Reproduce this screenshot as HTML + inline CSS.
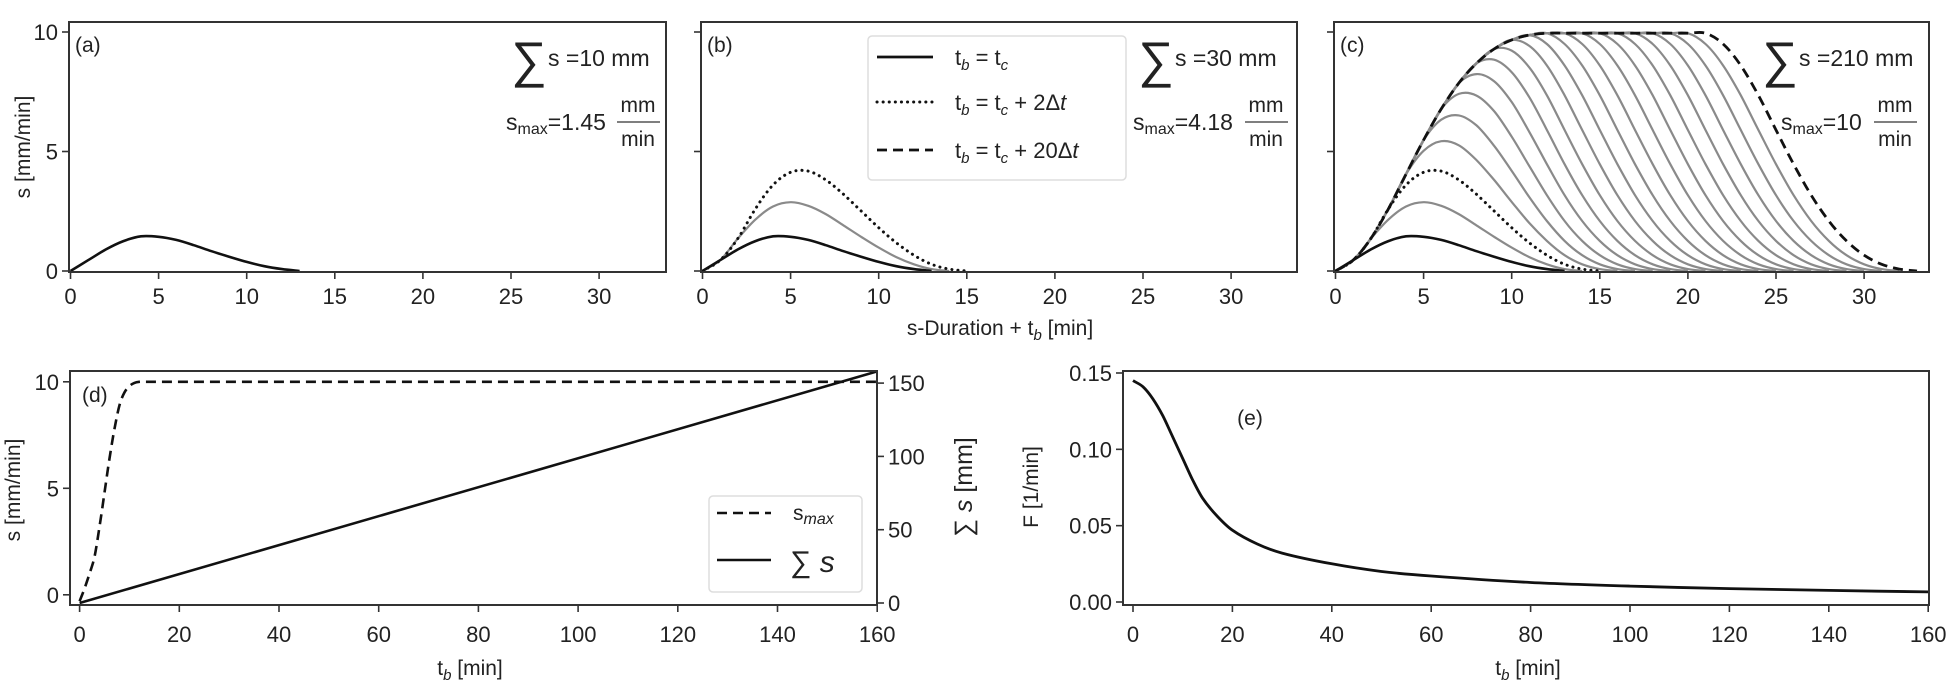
<!DOCTYPE html>
<html><head><meta charset="utf-8">
<style>
html,body{margin:0;padding:0;background:#fff;}
svg{display:block;font-family:"Liberation Sans",sans-serif;}
text{fill:#222;}
</style></head>
<body>
<svg id="fig" width="1953" height="689" viewBox="0 0 1953 689" xmlns="http://www.w3.org/2000/svg">
<rect x="0" y="0" width="1953" height="689" fill="#fff"/>
<g id="g"></g>
</svg>
<script>
// ---- data ----
// base response (t_b = t_c), value at integer minutes 0..13 [mm/min]
const baseTimes = [0,1,2,3,4,5,6,7,8,9,10,11,12,13];
const baseValues = [0,0.45,0.9,1.25,1.45,1.43,1.3,1.08,0.83,0.6,0.38,0.2,0.08,0];
// number of delta-t shifts superposed in each panel
const panelAShifts = [0];
const panelBShifts = [0,1,2];
const panelCShifts = [0,1,2,3,4,5,6,7,8,9,10,11,12,13,14,15,16,17,18,19,20];
const topXTicks = [0,5,10,15,20,25,30];
const topYTicks = [0,5,10];
// panel d
const dTimes = [0,1,2,3,4,5,6,7,8,9,10,11,12,13,160];
const dSmax = [-0.3,0.3,1.0,1.8,3.2,4.8,6.4,7.8,8.9,9.5,9.8,9.95,10,10,10];
const dSumTimes = [0,160];
const dSumValues = [0,158];
const bottomXTicks = [0,20,40,60,80,100,120,140,160];
const dLeftTicks = [0,5,10];
const dRightTicks = [0,50,100,150];
// panel e
const eTimes = [0,2,4,6,8,10,12,14,17,20,25,30,40,50,60,80,100,120,140,160];
const eF = [0.145,0.141,0.133,0.122,0.108,0.094,0.080,0.068,0.056,0.047,0.038,0.032,0.025,0.020,0.017,0.0128,0.0104,0.0088,0.0076,0.0066];
const eYTicks = [0,0.05,0.10,0.15];
const eYTickLabels = ["0.00","0.05","0.10","0.15"];

const NS="http://www.w3.org/2000/svg";
const G=document.getElementById('g');
function mk(tag,attrs,parent){const e=document.createElementNS(NS,tag);for(const k in attrs)e.setAttribute(k,attrs[k]);(parent||G).appendChild(e);return e;}
function smooth(pts){
  if(pts.length<3){return 'M'+pts.map(p=>p[0].toFixed(1)+','+p[1].toFixed(1)).join('L');}
  let d='M'+pts[0][0].toFixed(1)+','+pts[0][1].toFixed(1);
  for(let i=0;i<pts.length-1;i++){
    const p0=pts[Math.max(0,i-1)],p1=pts[i],p2=pts[i+1],p3=pts[Math.min(pts.length-1,i+2)];
    const h=p2[0]-p1[0];
    const s1=(p2[1]-p0[1])/((p2[0]-p0[0])||1), s2=(p3[1]-p1[1])/((p3[0]-p1[0])||1);
    const c1=[p1[0]+h/3,p1[1]+s1*h/3];
    const c2=[p2[0]-h/3,p2[1]-s2*h/3];
    d+='C'+c1[0].toFixed(1)+','+c1[1].toFixed(1)+' '+c2[0].toFixed(1)+','+c2[1].toFixed(1)+' '+p2[0].toFixed(1)+','+p2[1].toFixed(1);
  }
  return d;
}
function text(x,y,str,opt){opt=opt||{};const t=mk('text',{x:x,y:y,'font-size':opt.size||22,'text-anchor':opt.anchor||'middle'});if(opt.rot)t.setAttribute('transform','rotate(-90 '+x+' '+y+')');t.innerHTML=str;return t;}

// ---- top panels ----
const tops=[{id:'a',L:69,R:666,shifts:panelAShifts},{id:'b',L:701,R:1297,shifts:panelBShifts},{id:'c',L:1334,R:1929,shifts:panelCShifts}];
const T=22,B=272;
function superpose(k){
  const pts=[];
  for(let t=0;t<=baseTimes[baseTimes.length-1]+k;t++){
    let s=0;for(let j=0;j<=k;j++){const i=t-j;if(i>=0&&i<baseValues.length)s+=baseValues[i];}
    pts.push([t,s]);
  }
  return pts;
}
tops.forEach(p=>{
  const xs=v=>p.L+1.5+v*17.62, ys=v=>271-v*23.9;
  const g=mk('g',{});
  
  
  const order=p.shifts.filter(k=>!(k===0||k===2||k===20)).concat(p.shifts.filter(k=>k===0||k===2||k===20));
  order.forEach(k=>{
    const pts=superpose(k).map(q=>[xs(q[0]),ys(q[1])]);
    let attrs={d:smooth(pts),fill:'none','stroke-linejoin':'round'};
    if(k===0){attrs.stroke='#111';attrs['stroke-width']=2.6;}
    else if(k===2){attrs.stroke='#111';attrs['stroke-width']=3;attrs['stroke-dasharray']='0.1 6';attrs['stroke-linecap']='round';}
    else if(k===20){attrs.stroke='#111';attrs['stroke-width']=2.8;attrs['stroke-dasharray']='10 6';}
    else {attrs.stroke='#8a8a8a';attrs['stroke-width']=2.2;}
    const e=mk('path',attrs,g);
    
    
  });
  const fr=mk('rect',{x:p.L,y:T,width:p.R-p.L,height:B-T,fill:'none',stroke:'#333','stroke-width':2},g);
  
  
  topXTicks.forEach(v=>{
    mk('line',{x1:xs(v),x2:xs(v),y1:B,y2:B+7,stroke:'#333','stroke-width':1.6},g);
    const t=text(xs(v),304,String(v));
    
    
  });
  topYTicks.forEach(v=>{
    mk('line',{x1:p.L-7,x2:p.L,y1:ys(v),y2:ys(v),stroke:'#333','stroke-width':1.6},g);
    if(p.id==='a'){const t=text(p.L-11,ys(v)+8,String(v),{anchor:'end'});
      
      }
  });
  const lab=text(p.L+6,52,'('+p.id+')',{anchor:'start',size:21});
  
  
});

function ann(sx,sumStr,smaxStr,mx,fx){
  const sg=text(sx+16,77,'∑',{size:50,anchor:'middle'});
  
  
  const t1=text(sx+35,66,'s =' + sumStr,{anchor:'start',size:23});
  
  
  const t2=text(mx,130,'s<tspan font-size="16" dy="4">max</tspan><tspan dy="-4">='+smaxStr+'</tspan>',{anchor:'start',size:23});
  
  
  text(fx,112,'mm',{size:21});
  mk('line',{x1:fx-21,x2:fx+22,y1:122,y2:122,stroke:'#333','stroke-width':1.3});
  text(fx,146,'min',{size:21});
}
ann(513,'10 mm','1.45',506,638);
ann(1140,'30 mm','4.18',1133,1266);
ann(1764,'210 mm','10',1781,1895);

const lg=mk('g',{});


mk('rect',{x:868,y:36,width:258,height:144,rx:4,fill:'#fff','fill-opacity':0.85,stroke:'#ddd','stroke-width':1.5},lg);
const legItems=[['#111','none',57,'t<tspan font-style="italic" font-size="15" dy="5">b</tspan><tspan dy="-5"> = t</tspan><tspan font-style="italic" font-size="15" dy="5">c</tspan>'],
 ['#111','0.1 6',102,'t<tspan font-style="italic" font-size="15" dy="5">b</tspan><tspan dy="-5"> = t</tspan><tspan font-style="italic" font-size="15" dy="5">c</tspan><tspan dy="-5"> + 2Δ</tspan><tspan font-style="italic">t</tspan>'],
 ['#111','10 6',150,'t<tspan font-style="italic" font-size="15" dy="5">b</tspan><tspan dy="-5"> = t</tspan><tspan font-style="italic" font-size="15" dy="5">c</tspan><tspan dy="-5"> + 20Δ</tspan><tspan font-style="italic">t</tspan>']];
legItems.forEach((it,i)=>{
  const l=mk('line',{x1:877,x2:933,y1:it[2],y2:it[2],stroke:it[0],'stroke-width':i===1?3:2.8,'stroke-dasharray':it[1],'stroke-linecap':i===1?'round':'butt'},lg);
  
  
  const t=text(955,it[2]+8,it[3],{anchor:'start',size:22});
  lg.appendChild(t);
  
  
});
const yl=text(30,147,'s [mm/min]',{rot:true,size:21});


const xl=text(1000,335,'s-Duration + t<tspan font-style="italic" font-size="15" dy="5">b</tspan><tspan dy="-5"> [min]</tspan>',{size:21});



// ---- panel d ----
(function(){
  const L=70,R=877,Tt=371,Bb=605;
  const xs=v=>79.6+v*4.985, yl=v=>594.8-v*21.3, yr=v=>603-v*1.466;
  const g=mk('g',{});
  
  
  const cp=mk('clipPath',{id:'cd'},g);mk('rect',{x:L,y:Tt,width:R-L,height:Bb-Tt},cp);
  const s1=mk('path',{d:smooth(dTimes.slice(0,-1).map((t,i)=>[xs(t),yl(dSmax[i])]))+'L'+xs(dTimes[dTimes.length-1])+','+yl(dSmax[dSmax.length-1]),fill:'none',stroke:'#111','stroke-width':2.6,'stroke-dasharray':'10 6','clip-path':'url(#cd)'},g);
  
  
  const s2=mk('path',{d:'M'+dSumTimes.map((t,i)=>xs(t)+','+yr(dSumValues[i])).join('L'),fill:'none',stroke:'#111','stroke-width':2.6,'clip-path':'url(#cd)'},g);
  
  
  mk('rect',{x:L,y:Tt,width:R-L,height:Bb-Tt,fill:'none',stroke:'#333','stroke-width':2},g);
  bottomXTicks.forEach(v=>{mk('line',{x1:xs(v),x2:xs(v),y1:Bb,y2:Bb+7,stroke:'#333','stroke-width':1.6},g);
    const t=text(xs(v),642,String(v));});
  dLeftTicks.forEach(v=>{mk('line',{x1:L-7,x2:L,y1:yl(v),y2:yl(v),stroke:'#333','stroke-width':1.6},g);
    const t=text(L-11,yl(v)+8,String(v),{anchor:'end'});});
  dRightTicks.forEach(v=>{mk('line',{x1:R,x2:R+7,y1:yr(v),y2:yr(v),stroke:'#333','stroke-width':1.6},g);
    const t=text(R+11,yr(v)+8,String(v),{anchor:'start'});});
  text(82,402,'(d)',{anchor:'start',size:21});
  const yt=text(20,490,'s [mm/min]',{rot:true,size:21});
  const yt2=text(972,487,'∑ <tspan font-style="italic">s</tspan> [mm]',{rot:true,size:25});
  const xt=text(470,675,'t<tspan font-style="italic" font-size="15" dy="5">b</tspan><tspan dy="-5"> [min]</tspan>',{size:21});
  const lg=mk('g',{},g);
  
  
  mk('rect',{x:709,y:496,width:153,height:96,rx:4,fill:'#fff','fill-opacity':0.85,stroke:'#ddd','stroke-width':1.5},lg);
  mk('line',{x1:717,x2:771,y1:513,y2:513,stroke:'#111','stroke-width':2.6,'stroke-dasharray':'10 6'},lg);
  mk('line',{x1:717,x2:771,y1:560,y2:560,stroke:'#111','stroke-width':2.6},lg);
  const l1=text(793,520,'s<tspan font-style="italic" font-size="16" dy="4">max</tspan>',{anchor:'start',size:21});lg.appendChild(l1);
  
  const l2=text(790,572,'∑ <tspan font-style="italic">s</tspan>',{anchor:'start',size:30});lg.appendChild(l2);
  
})();

// ---- panel e ----
(function(){
  const L=1123,R=1929,Tt=371,Bb=605;
  const xs=v=>1133+v*4.97, ys=v=>602-v*1526.7;
  const g=mk('g',{});
  
  
  const c=mk('path',{d:smooth(eTimes.map((t,i)=>[xs(t),ys(eF[i])])),fill:'none',stroke:'#111','stroke-width':2.8},g);
  
  
  mk('rect',{x:L,y:Tt,width:R-L,height:Bb-Tt,fill:'none',stroke:'#333','stroke-width':2},g);
  bottomXTicks.forEach(v=>{mk('line',{x1:xs(v),x2:xs(v),y1:Bb,y2:Bb+7,stroke:'#333','stroke-width':1.6},g);
    const t=text(xs(v),642,String(v));});
  eYTicks.forEach((v,i)=>{mk('line',{x1:L-7,x2:L,y1:ys(v),y2:ys(v),stroke:'#333','stroke-width':1.6},g);
    const t=text(L-11,ys(v)+8,eYTickLabels[i],{anchor:'end'});});
  text(1250,425,'(e)',{size:21});
  const yt=text(1038,487,'F [1/min]',{rot:true,size:21});
  const xt=text(1528,675,'t<tspan font-style="italic" font-size="15" dy="5">b</tspan><tspan dy="-5"> [min]</tspan>',{size:21});
})();
</script>
</body></html>
